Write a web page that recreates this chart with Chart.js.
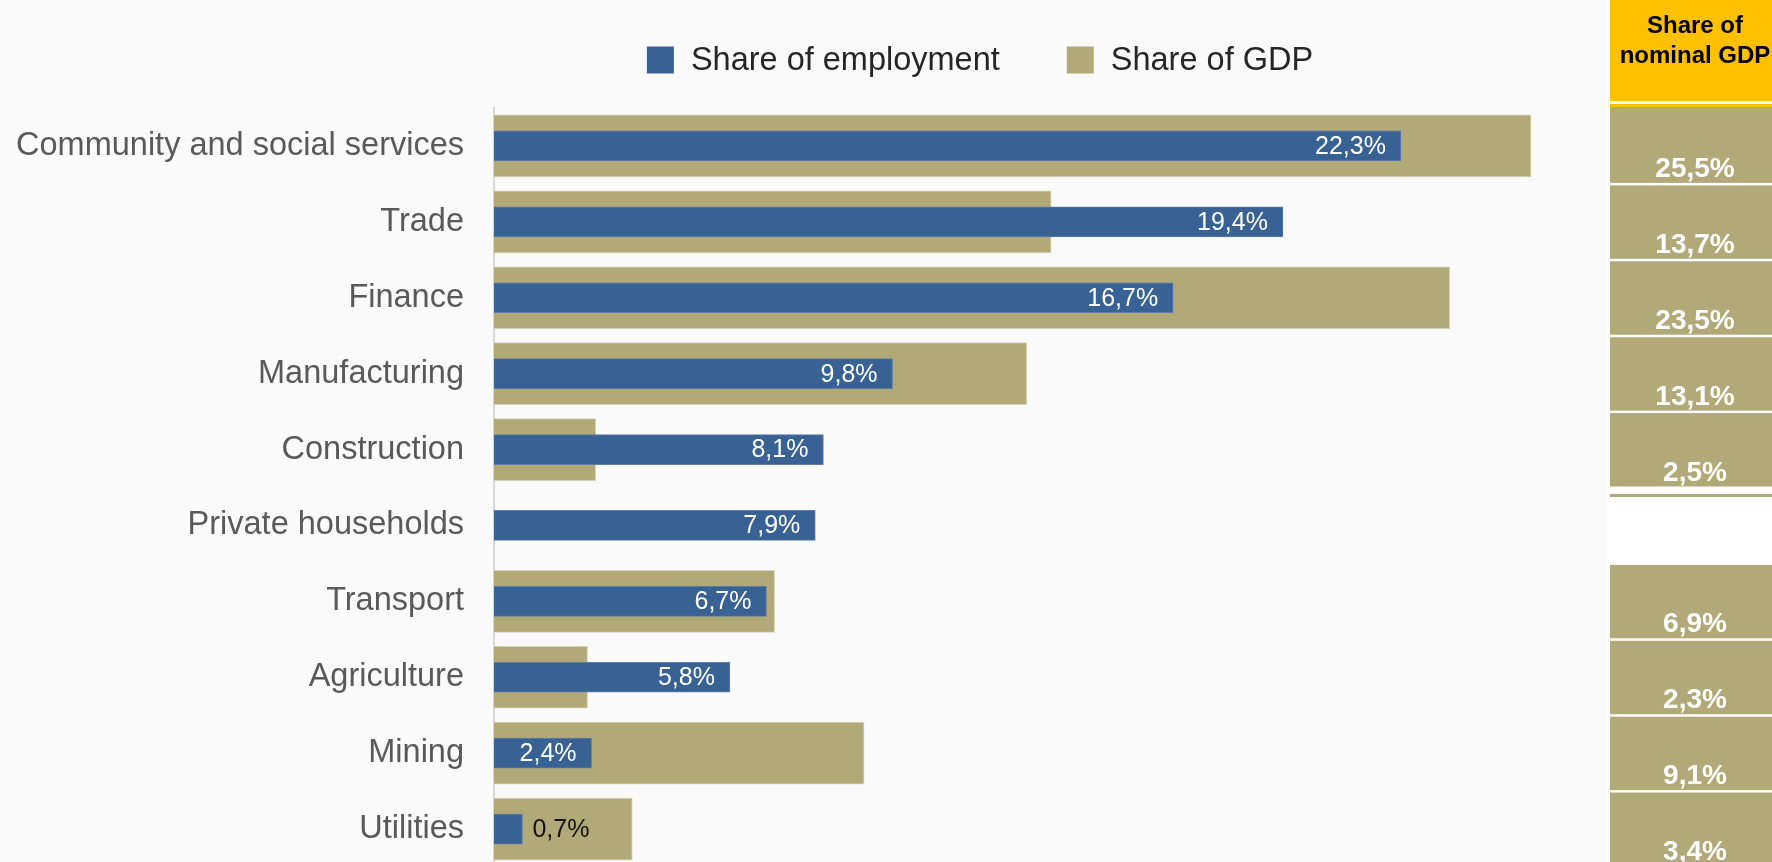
<!DOCTYPE html>
<html><head><meta charset="utf-8">
<script src="https://cdn.jsdelivr.net/npm/chart.js@4.4.0/dist/chart.umd.min.js"></script>
<style>
html,body{margin:0;padding:0;overflow:hidden;background:#fafafa;width:1772px;height:862px}
#wrap{position:relative;width:1772px;height:869px}
</style></head>
<body><div id="wrap"><canvas id="c" width="1772" height="869"></canvas></div>
<script>
const categories = ['Community and social services','Trade','Finance','Manufacturing','Construction','Private households','Transport','Agriculture','Mining','Utilities'];
const employmentShare = [22.3,19.4,16.7,9.8,8.1,7.9,6.7,5.8,2.4,0.7];
const gdpShare = [25.5,13.7,23.5,13.1,2.5,null,6.9,2.3,9.1,3.4];
const nominalGdpTable = [25.5,13.7,23.5,13.1,2.5,null,6.9,2.3,9.1,3.4];
const seriesNames = ['Share of employment','Share of GDP'];
const tableTitle = ['Share of','nominal GDP'];

const FONT = "'Liberation Sans', Arial, sans-serif";
const BLUE = '#386194';
const TAN = '#b2a978';
const YELLOW = '#ffc000';
const fmt = v => v.toFixed(1).replace('.', ',') + '%';

const bgPlugin = {
  id: 'bg',
  beforeDraw(chart) {
    const c = chart.ctx; c.save();
    c.fillStyle = '#fafafa'; c.fillRect(0, 0, chart.width, chart.height);
    c.fillStyle = '#ffffff'; c.fillRect(1607, 0, chart.width - 1607, chart.height);
    c.restore();
  }
};

const labelPlugin = {
  id: 'barLabels',
  afterDatasetsDraw(chart) {
    const c = chart.ctx; c.save();
    c.font = '25px ' + FONT;
    c.textBaseline = 'middle';
    const meta = chart.getDatasetMeta(0);
    meta.data.forEach((el, i) => {
      const v = employmentShare[i];
      const t = fmt(v);
      const w = c.measureText(t).width;
      if (el.x - el.base > w + 26) {
        c.fillStyle = '#ffffff'; c.textAlign = 'right';
        c.fillText(t, el.x - 15, el.y + 1);
      } else {
        c.fillStyle = '#111111'; c.textAlign = 'left';
        c.fillText(t, el.x + 10, el.y + 1);
      }
    });
    c.restore();
  }
};

const tablePlugin = {
  id: 'gdpTable',
  afterDraw(chart) {
    const c = chart.ctx; c.save();
    const y = chart.scales.y;
    const x0 = 1610, x1 = chart.width, cx = 1695;
    // header
    c.fillStyle = YELLOW;
    c.fillRect(x0, 0, x1 - x0, 101);
    c.fillRect(x0, 104, x1 - x0, 3);
    c.fillStyle = '#000000';
    c.font = 'bold 24px ' + FONT;
    c.textAlign = 'center'; c.textBaseline = 'alphabetic';
    c.fillText(tableTitle[0], cx, 33);
    c.fillText(tableTitle[1], cx, 63);
    // cells
    const step = y.getPixelForValue(1) - y.getPixelForValue(0);
    c.font = 'bold 28px ' + FONT;
    nominalGdpTable.forEach((v, i) => {
      const cy = y.getPixelForValue(i);
      const top = i === 0 ? 107 : cy - step / 2 + 1.5, bot = cy + step / 2 - 1;
      if (v === null) {
        c.fillStyle = TAN;
        c.fillRect(x0, top + 5, x1 - x0, 3);
        return;
      }
      c.fillStyle = TAN;
      c.fillRect(x0, top, x1 - x0, bot - top);
      c.fillStyle = '#ffffff';
      c.fillText(fmt(v), cx, cy + 31);
    });
    // legend
    c.font = '32.5px ' + FONT;
    c.textBaseline = 'middle'; c.textAlign = 'left';
    const colors = [BLUE, TAN];
    const box = 27, gapBT = 17, gapItems = 67;
    const widths = seriesNames.map(s => box + gapBT + c.measureText(s).width);
    const total = widths[0] + widths[1] + gapItems;
    let lx = 980 - total / 2;
    const ly = 60;
    seriesNames.forEach((s, i) => {
      c.fillStyle = colors[i];
      c.fillRect(lx, ly - box / 2, box, box);
      c.fillStyle = '#262626';
      c.fillText(s, lx + box + gapBT, ly + 1);
      lx += widths[i] + gapItems;
    });
    c.restore();
  }
};

new Chart(document.getElementById('c'), {
  type: 'bar',
  data: {
    labels: categories,
    datasets: [
      { label: seriesNames[0], data: employmentShare, backgroundColor: BLUE, borderColor: '#5b7ca6', borderWidth: 1, barThickness: 30, grouped: false },
      { label: seriesNames[1], data: gdpShare, backgroundColor: TAN, borderColor: '#d8d2b8', borderWidth: 1, barThickness: 62, grouped: false }
    ]
  },
  options: {
    indexAxis: 'y',
    responsive: false,
    animation: false,
    devicePixelRatio: 1,
    layout: { padding: { top: 108, bottom: 2, left: 0, right: 180 } },
    plugins: { legend: { display: false }, tooltip: { enabled: false } },
    scales: {
      x: { display: false, min: 0, max: 27 },
      y: {
        afterFit(scale) { scale.width = 494; scale.paddingTop = 0; scale.paddingBottom = 0; },
        grid: { display: false, drawTicks: false },
        border: { display: true, color: '#d6d6d6', width: 2 },
        ticks: { color: '#595959', padding: 30, font: { family: FONT, size: 32.5 } }
      }
    }
  },
  plugins: [bgPlugin, labelPlugin, tablePlugin]
});
</script></body></html>
